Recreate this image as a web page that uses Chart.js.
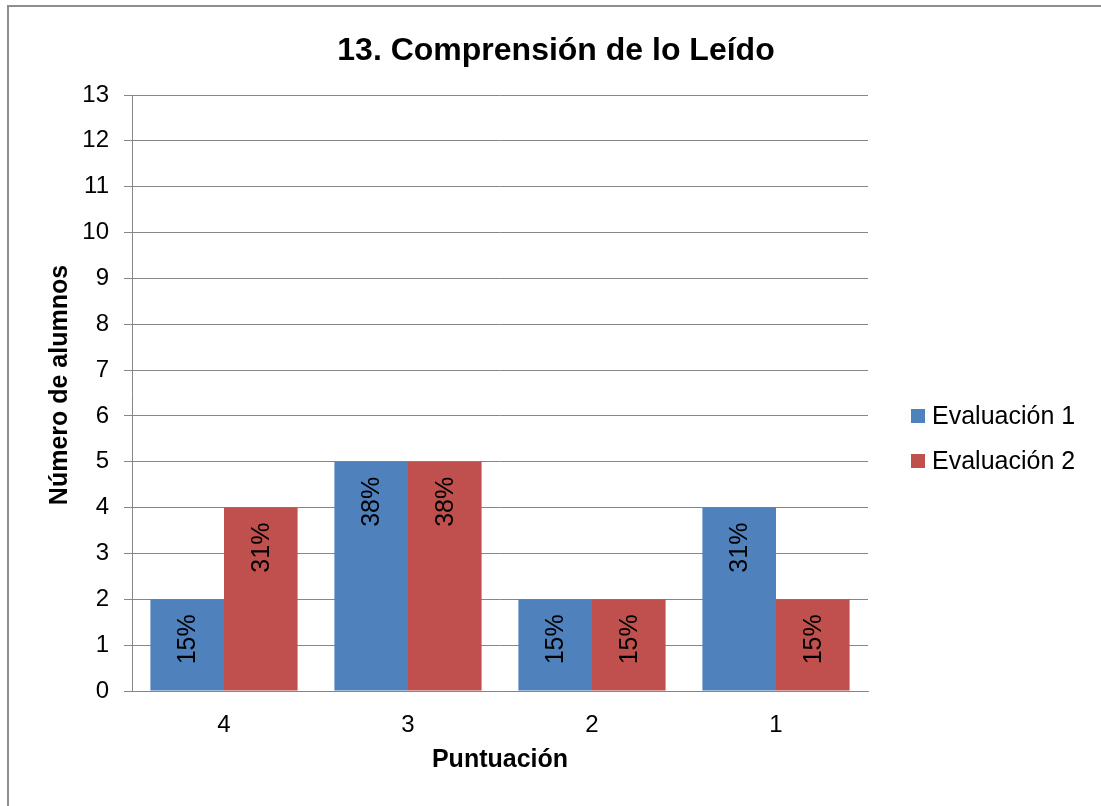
<!DOCTYPE html>
<html>
<head>
<meta charset="utf-8">
<script src="https://cdn.jsdelivr.net/npm/chart.js@4/dist/chart.umd.min.js"></script>
<style>
  html, body { margin:0; padding:0; background:#fff; overflow:hidden; width:1101px; height:806px; }
  #wrap { position:relative; width:1101px; height:806px; }
  #frame { position:absolute; left:7px; top:5px; width:1200px; height:900px; border:2px solid #8e8e8e; box-sizing:border-box; }
  canvas { position:absolute; left:0; top:0; }
</style>
</head>
<body>
<div id="wrap">
  <div id="frame"></div>
  <canvas id="chart" width="1101" height="806"></canvas>
</div>
<script>
// Data
const chartTitle = '13. Comprensión de lo Leído'
const xTitle = 'Puntuación'
const yTitle = 'Número de alumnos'
const categories = ['4', '3', '2', '1']
const seriesNames = ['Evaluación 1', 'Evaluación 2']
const eval1 = [2, 5, 2, 4]
const eval2 = [4, 5, 2, 2]
const eval1Pct = ['15%', '38%', '15%', '31%']
const eval2Pct = ['31%', '38%', '15%', '15%']
const colors = ['#4F81BD', '#C0504D']

const FONT = '"Liberation Sans", Arial, sans-serif'
const GRID = '#868686'

// draws title, axis titles, legend and rotated value labels
const extras = {
  id: 'extras',
  afterDatasetsDraw(chart){
    const ctx = chart.ctx
    const pcts = [eval1Pct, eval2Pct]
    ctx.save()
    ctx.fillStyle = '#000'
    ctx.font = '25px ' + FONT
    ctx.textAlign = 'center'
    ctx.textBaseline = 'middle'
    chart.data.datasets.forEach((ds, i) => {
      chart.getDatasetMeta(i).data.forEach((bar, j) => {
        ctx.save()
        ctx.translate(bar.x + 1, bar.y + 40)
        ctx.rotate(-Math.PI / 2)
        ctx.fillText(pcts[i][j], 0, 0)
        ctx.restore()
      })
    })
    ctx.restore()
  },
  afterDraw(chart){
    const ctx = chart.ctx
    const area = chart.chartArea
    ctx.save()
    ctx.fillStyle = '#000'
    // title
    ctx.font = 'bold 32px ' + FONT
    ctx.textAlign = 'center'
    ctx.textBaseline = 'alphabetic'
    ctx.fillText(chartTitle, 556, 60)
    // x title
    ctx.font = 'bold 25px ' + FONT
    ctx.fillText(xTitle, (area.left + area.right) / 2, 767)
    // y title
    ctx.save()
    ctx.translate(67, 385)
    ctx.rotate(-Math.PI / 2)
    ctx.fillText(yTitle, 0, 0)
    ctx.restore()
    // legend
    ctx.font = '25px ' + FONT
    ctx.textAlign = 'left'
    ctx.textBaseline = 'middle'
    const ys = [416, 461]
    seriesNames.forEach((name, i) => {
      ctx.fillStyle = colors[i]
      ctx.fillRect(911, ys[i] - 7, 14, 14)
      ctx.fillStyle = '#000'
      ctx.fillText(name, 932, ys[i] + 1)
    })
    ctx.restore()
  }
}

new Chart(document.getElementById('chart').getContext('2d'), {
  type: 'bar',
  data: {
    labels: categories,
    datasets: [
      { label: seriesNames[0], data: eval1, backgroundColor: colors[0], categoryPercentage: 0.8, barPercentage: 1.0 },
      { label: seriesNames[1], data: eval2, backgroundColor: colors[1], categoryPercentage: 0.8, barPercentage: 1.0 }
    ]
  },
  options: {
    responsive: false,
    animation: false,
    devicePixelRatio: 1,
    layout: { padding: { left: 0, right: 233, top: 95, bottom: 0 } },
    plugins: { legend: { display: false }, title: { display: false }, tooltip: { enabled: false } },
    scales: {
      x: {
        grid: { display: false, drawTicks: false },
        border: { display: true, color: GRID, width: 1 },
        ticks: { color: '#000', font: { family: FONT, size: 24 }, padding: 20, maxRotation: 0 },
        afterFit(s){ s.height = 115 }
      },
      y: {
        min: 0, max: 13,
        grid: { color: GRID, lineWidth: 1, tickLength: 8, drawTicks: true },
        border: { display: true, color: GRID, width: 1 },
        ticks: { stepSize: 1, color: '#000', font: { family: FONT, size: 24 }, padding: 15 },
        afterFit(s){ s.width = 132 }
      }
    }
  },
  plugins: [extras]
})
</script>
</body>
</html>
